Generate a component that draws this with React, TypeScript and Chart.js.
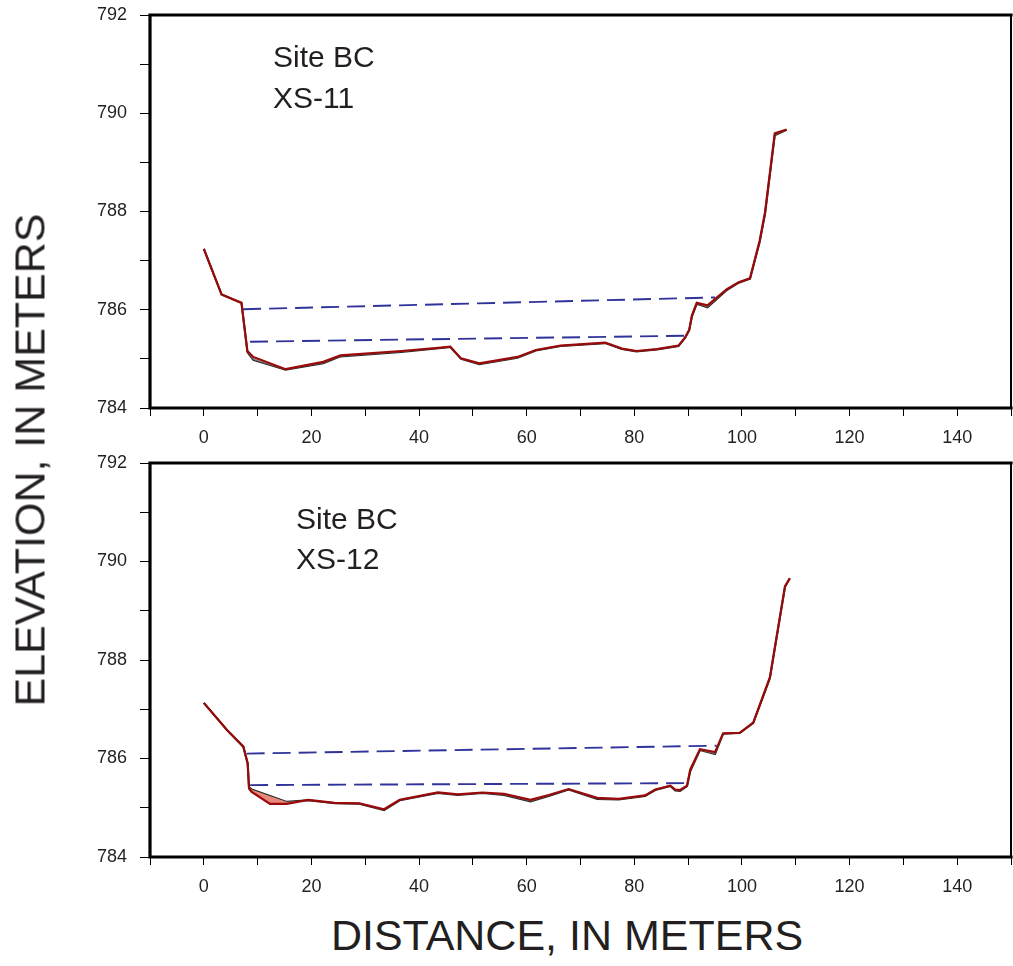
import React, { useEffect, useRef } from "react";
import { Chart, registerables } from "chart.js";

Chart.register(...registerables);

const FONT = '"Liberation Sans", Arial, Helvetica, sans-serif';
const TEXT = "#231f20";

// ---------- XS-11 (top panel) ----------
const xs11Distance = [0, 3.3, 7.0, 8.1, 9.2, 15.2, 22.2, 25.4, 36.7, 44.1, 45.8, 47.8, 51.2, 58.3, 61.7, 66.3, 74.6, 77.7, 80.4, 84.2, 88.2, 89.4, 90.2, 90.7, 91.6, 93.6, 97.2, 99.4, 101.5, 103.3, 104.3, 106.1, 108.3];
const xs11Current = [787.24, 786.31, 786.14, 785.16, 785.04, 784.79, 784.94, 785.07, 785.16, 785.23, 785.25, 785.01, 784.91, 785.04, 785.18, 785.27, 785.33, 785.21, 785.16, 785.2, 785.27, 785.43, 785.59, 785.88, 786.14, 786.09, 786.42, 786.56, 786.64, 787.41, 787.99, 789.59, 789.67];
const xs11Previous = [787.24, 786.31, 786.14, 785.14, 784.98, 784.78, 784.91, 785.05, 785.14, 785.22, 785.24, 785.0, 784.89, 785.02, 785.17, 785.26, 785.32, 785.2, 785.15, 785.19, 785.26, 785.42, 785.58, 785.86, 786.12, 786.05, 786.4, 786.55, 786.63, 787.38, 787.95, 789.55, 789.66];
const xs11UpperWaterDist = [7.3, 95.0];
const xs11UpperWaterElev = [786.01, 786.25];
const xs11LowerWaterDist = [8.6, 89.4];
const xs11LowerWaterElev = [785.35, 785.47];

// ---------- XS-12 (bottom panel) ----------
const xs12Distance = [0, 4.3, 7.35, 8.15, 8.4, 8.9, 12.3, 15.4, 19.4, 24.3, 28.9, 33.5, 36.4, 43.5, 47.2, 51.8, 55.8, 60.7, 64.1, 67.8, 73.1, 77.1, 82.0, 83.9, 86.7, 87.6, 88.5, 89.8, 90.4, 92.2, 95.0, 96.5, 99.6, 102.1, 105.2, 108.0, 108.9];
const xs12Current = [787.13, 786.58, 786.24, 785.9, 785.39, 785.32, 785.08, 785.08, 785.16, 785.1, 785.09, 784.97, 785.16, 785.31, 785.27, 785.31, 785.28, 785.16, 785.26, 785.38, 785.2, 785.18, 785.25, 785.37, 785.45, 785.37, 785.36, 785.45, 785.78, 786.19, 786.13, 786.51, 786.52, 786.73, 787.65, 789.5, 789.66];
const xs12Previous = [787.13, 786.58, 786.24, 785.9, 785.42, 785.37, 785.24, 785.12, 785.15, 785.09, 785.08, 784.95, 785.15, 785.3, 785.26, 785.3, 785.26, 785.13, 785.24, 785.37, 785.18, 785.17, 785.24, 785.36, 785.44, 785.35, 785.34, 785.44, 785.74, 786.17, 786.09, 786.5, 786.52, 786.72, 787.63, 789.48, 789.66];
const xs12UpperWaterDist = [7.96, 95.3];
const xs12UpperWaterElev = [786.1, 786.26];
const xs12LowerWaterDist = [8.6, 89.8];
const xs12LowerWaterElev = [785.46, 785.5];

// ---------- Axes ----------
const xMin = -10;
const xMax = 150;
const xStep = 10;
const yMin = 784;
const yMax = 792;
const yStep = 1;

const pts = (xs: number[], ys: number[]) => xs.map((x, i) => ({ x, y: ys[i] }));

const framePlugin = {
  id: "frame",
  afterDraw(chart: any) {
    const { ctx, chartArea: a } = chart;
    ctx.save();
    ctx.strokeStyle = "#000";
    ctx.lineCap = "square";
    ctx.lineWidth = 3.2;
    ctx.beginPath();
    ctx.moveTo(a.left, a.bottom);
    ctx.lineTo(a.left, a.top);
    ctx.lineTo(a.right, a.top);
    ctx.moveTo(a.left, a.bottom);
    ctx.lineTo(a.right, a.bottom);
    ctx.stroke();
    ctx.lineWidth = 2;
    ctx.beginPath();
    ctx.moveTo(a.right, a.top);
    ctx.lineTo(a.right, a.bottom);
    ctx.stroke();
    ctx.restore();
  },
};

type PanelProps = {
  top: number;
  height: number;
  dist: number[];
  current: number[];
  previous: number[];
  upD: number[];
  upE: number[];
  loD: number[];
  loE: number[];
  lines: string[];
  labelX: number;
  labelY: number[];
};

function Panel(p: PanelProps) {
  const ref = useRef<HTMLCanvasElement | null>(null);
  useEffect(() => {
    if (!ref.current) return;
    const labelPlugin = {
      id: "siteLabel",
      afterDraw(chart: any) {
        const ctx = chart.ctx;
        ctx.save();
        ctx.fillStyle = TEXT;
        ctx.font = `30px ${FONT}`;
        ctx.textBaseline = "alphabetic";
        ctx.textAlign = "left";
        p.lines.forEach((t, i) => ctx.fillText(t, p.labelX, p.labelY[i]));
        ctx.restore();
      },
    };
    const chart = new Chart(ref.current, {
      type: "line",
      data: {
        datasets: [
          {
            label: "previous",
            data: pts(p.dist, p.previous),
            borderColor: "#2a2a2a",
            borderWidth: 2,
            pointRadius: 0,
            fill: false,
            order: 1,
          },
          {
            label: "current",
            data: pts(p.dist, p.current),
            borderColor: "#990a0a",
            borderWidth: 2.2,
            pointRadius: 0,
            fill: { target: 0, above: "rgba(140,140,140,0.8)", below: "#e8877b" },
            order: 0,
          },
          {
            label: "upper water",
            data: pts(p.upD, p.upE),
            borderColor: "#303399",
            borderWidth: 1.9,
            borderDash: [18, 8],
            pointRadius: 0,
            fill: false,
            order: 2,
          },
          {
            label: "lower water",
            data: pts(p.loD, p.loE),
            borderColor: "#303399",
            borderWidth: 1.9,
            borderDash: [18, 8],
            pointRadius: 0,
            fill: false,
            order: 2,
          },
        ],
      },
      options: {
        animation: false,
        responsive: false,
        events: [],
        layout: { padding: { top: 15, right: 2, left: 0, bottom: 0 } },
        plugins: { legend: { display: false }, tooltip: { enabled: false } },
        elements: { line: { tension: 0 } },
        scales: {
          x: {
            type: "linear",
            min: xMin,
            max: xMax,
            afterFit: (s: any) => {
              s.height = 48;
              s.paddingLeft = 0;
              s.paddingRight = 0;
            },
            ticks: {
              stepSize: xStep,
              autoSkip: false,
              maxRotation: 0,
              padding: 11,
              color: TEXT,
              font: { family: FONT, size: 18 },
              callback: (v: any) => (Number(v) % 20 === 0 ? String(v) : ""),
            },
            grid: { drawOnChartArea: false, drawTicks: true, tickLength: 8, color: "#000", lineWidth: 1 },
            border: { display: false },
          },
          y: {
            type: "linear",
            min: yMin,
            max: yMax,
            afterFit: (s: any) => {
              s.width = 150;
              s.paddingTop = 0;
              s.paddingBottom = 0;
            },
            ticks: {
              stepSize: yStep,
              autoSkip: false,
              padding: 13,
              color: TEXT,
              font: { family: FONT, size: 18 },
              callback: (v: any) => (Number(v) % 2 === 0 ? String(v) : ""),
            },
            grid: { drawOnChartArea: false, drawTicks: true, tickLength: 10, color: "#000", lineWidth: 1 },
            border: { display: false },
          },
        },
      },
      plugins: [framePlugin, labelPlugin],
    } as any);
    return () => chart.destroy();
  }, []);
  return (
    <canvas
      ref={ref}
      width={1013}
      height={p.height}
      style={{ position: "absolute", left: 0, top: p.top, width: 1013, height: p.height }}
    />
  );
}

export default function App() {
  return (
    <div style={{ position: "absolute", left: 0, top: 0, width: 1013, height: 966, background: "#fff", overflow: "hidden" }}>
      <Panel
        top={0}
        height={456}
        dist={xs11Distance}
        current={xs11Current}
        previous={xs11Previous}
        upD={xs11UpperWaterDist}
        upE={xs11UpperWaterElev}
        loD={xs11LowerWaterDist}
        loE={xs11LowerWaterElev}
        lines={["Site BC", "XS-11"]}
        labelX={273}
        labelY={[67, 108]}
      />
      <Panel
        top={448}
        height={457}
        dist={xs12Distance}
        current={xs12Current}
        previous={xs12Previous}
        upD={xs12UpperWaterDist}
        upE={xs12UpperWaterElev}
        loD={xs12LowerWaterDist}
        loE={xs12LowerWaterElev}
        lines={["Site BC", "XS-12"]}
        labelX={296}
        labelY={[81, 121]}
      />
      <div
        style={{
          position: "absolute",
          left: 30,
          top: 460,
          transform: "translate(-50%, -50%) rotate(-90deg)",
          fontFamily: FONT,
          fontSize: 43,
          lineHeight: 1,
          whiteSpace: "nowrap",
          color: TEXT,
        }}
      >
        ELEVATION, IN METERS
      </div>
      <div
        style={{
          position: "absolute",
          left: 567,
          top: 935,
          transform: "translate(-50%, -50%)",
          fontFamily: FONT,
          fontSize: 43,
          lineHeight: 1,
          whiteSpace: "nowrap",
          color: TEXT,
        }}
      >
        DISTANCE, IN METERS
      </div>
    </div>
  );
}
